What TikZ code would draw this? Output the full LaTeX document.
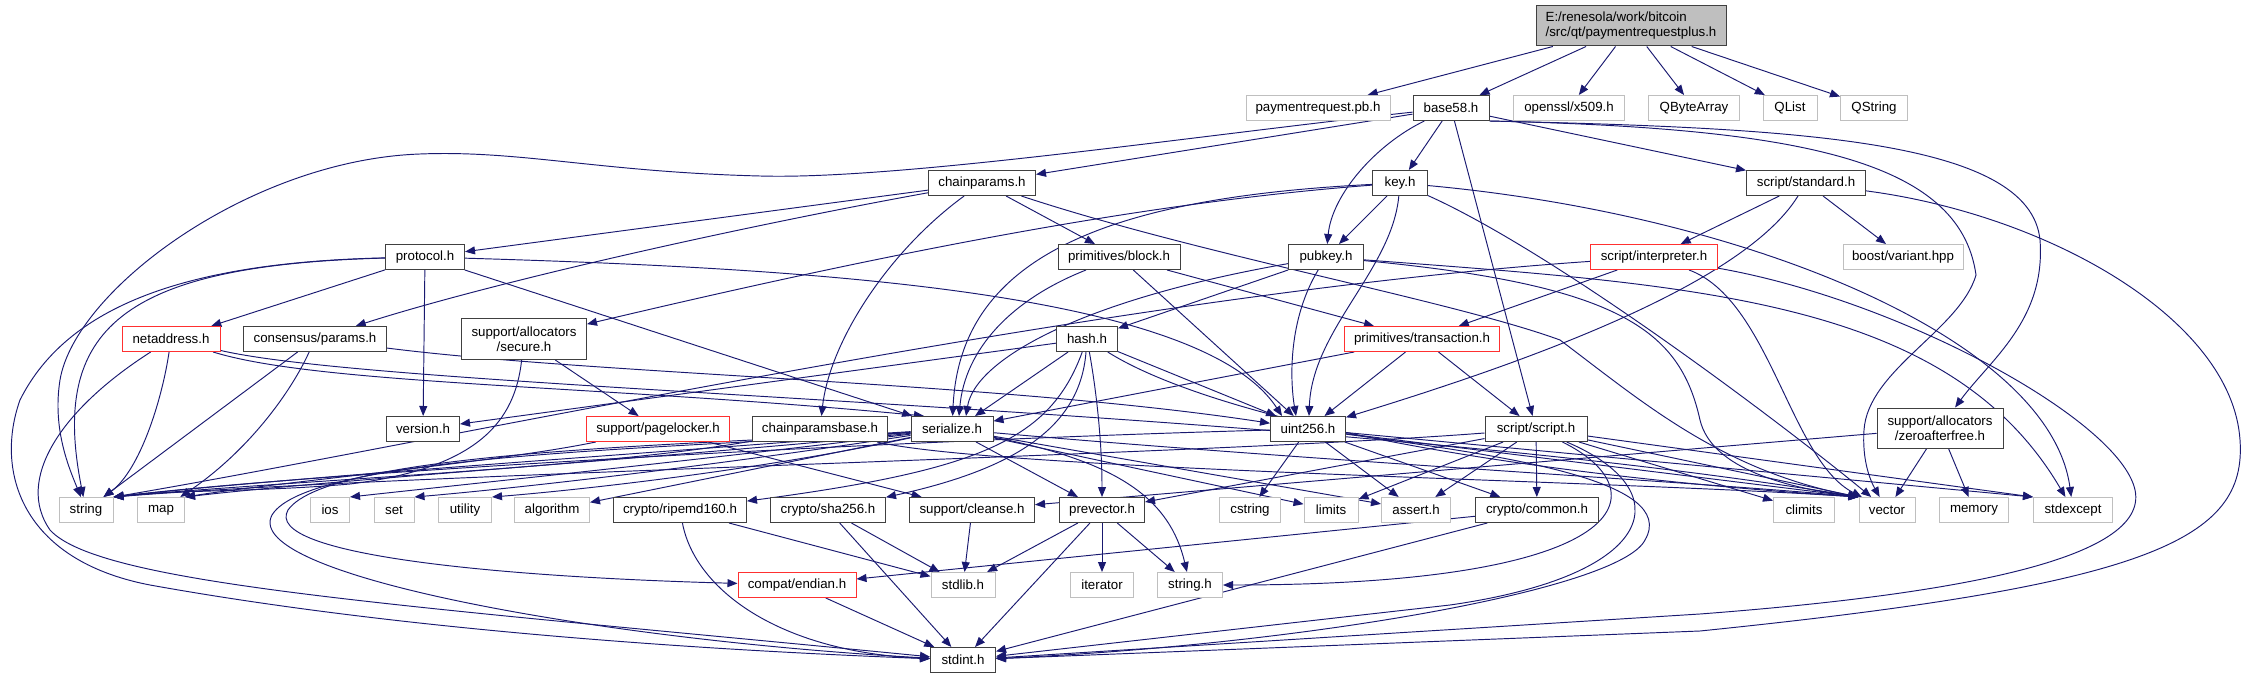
\documentclass[tikz,border=0pt]{standalone}
\usepackage{fontspec}
\setmainfont{Liberation Sans}
\usetikzlibrary{arrows.meta}
\definecolor{edgec}{HTML}{191970}
\definecolor{lgray}{HTML}{BFBFBF}
\definecolor{dgray}{HTML}{404040}
\definecolor{redb}{HTML}{FF3030}
\pgfdeclarelayer{bg}
\pgfsetlayers{bg,main}
\begin{document}
\begin{tikzpicture}[x=1pt,y=-1pt,
  base/.style={rectangle, minimum height=25pt, inner sep=0pt, font=\fontsize{13.3}{15}\selectfont, line width=1pt, fill=white},
  nb/.style={base, draw=dgray},
  ng/.style={base, draw=lgray},
  nr/.style={base, draw=redb},
  dep/.style={draw=edgec, line width=0.95pt, -{Triangle[length=10pt,width=8pt]}},
]
\useasboundingbox (0,0) rectangle (2249,679);
% nodes
\node[base, draw=dgray, fill=lgray, minimum width=190pt, minimum height=40pt, align=left] (root) at (1631,26) {E:/renesola/work/bitcoin\\/src/qt/paymentrequestplus.h};
\node[ng, minimum width=144pt] (pr) at (1318,108) {paymentrequest.pb.h};
\node[nb, minimum width=76pt] (base58) at (1451,108) {base58.h};
\node[ng, minimum width=111pt] (x509) at (1569,108) {openssl/x509.h};
\node[ng, minimum width=91pt] (qba) at (1694,108) {QByteArray};
\node[ng, minimum width=54pt] (qlist) at (1790,108) {QList};
\node[ng, minimum width=67pt] (qstring) at (1874,108) {QString};
\node[nb, minimum width=107pt] (chainparams) at (982,183) {chainparams.h};
\node[nb, minimum width=55pt] (key) at (1400,183) {key.h};
\node[nb, minimum width=119pt] (standard) at (1806,183) {script/standard.h};
\node[nb, minimum width=79pt] (protocol) at (425,257) {protocol.h};
\node[nb, minimum width=122pt] (block) at (1119,257) {primitives/block.h};
\node[nb, minimum width=75pt] (pubkey) at (1326,257) {pubkey.h};
\node[nr, minimum width=127pt] (interp) at (1654,257) {script/interpreter.h};
\node[ng, minimum width=120pt] (variant) at (1903,257) {boost/variant.hpp};
\node[nr, minimum width=98pt] (netaddr) at (171,339) {netaddress.h};
\node[nb, minimum width=143pt] (consensus) at (315,339) {consensus/params.h};
\node[nb, minimum width=125pt, minimum height=41pt, align=center] (secure) at (524,339) {support/allocators\\/secure.h};
\node[nb, minimum width=61pt] (hash) at (1087,339) {hash.h};
\node[nr, minimum width=155pt] (tx) at (1422,339) {primitives/transaction.h};
\node[nb, minimum width=73pt] (version) at (423,429) {version.h};
\node[nr, minimum width=143pt] (pagelocker) at (658,429) {support/pagelocker.h};
\node[nb, minimum width=135pt] (cpbase) at (820,429) {chainparamsbase.h};
\node[nb, minimum width=82pt] (serialize) at (952,429) {serialize.h};
\node[nb, minimum width=75pt] (uint256) at (1308,429) {uint256.h};
\node[nb, minimum width=102pt] (script) at (1536,429) {script/script.h};
\node[nb, minimum width=126pt, minimum height=40pt, align=center] (zaf) at (1940,428) {support/allocators\\/zeroafterfree.h};
\node[ng, minimum width=54pt] (string) at (86,510) {string};
\node[ng, minimum width=47pt] (map) at (161,510) {map};
\node[ng, minimum width=39pt] (ios) at (330,510) {ios};
\node[ng, minimum width=40pt] (set) at (394,510) {set};
\node[ng, minimum width=53pt] (utility) at (465,510) {utility};
\node[ng, minimum width=75pt] (algorithm) at (552,510) {algorithm};
\node[nb, minimum width=133pt] (ripemd) at (680,510) {crypto/ripemd160.h};
\node[nb, minimum width=115pt] (sha) at (828,510) {crypto/sha256.h};
\node[nb, minimum width=125pt] (cleanse) at (972,510) {support/cleanse.h};
\node[nb, minimum width=85pt] (prevector) at (1102,510) {prevector.h};
\node[ng, minimum width=61pt] (cstring) at (1250,510) {cstring};
\node[ng, minimum width=54pt] (limits) at (1331,510) {limits};
\node[ng, minimum width=69pt] (assert) at (1416,510) {assert.h};
\node[nb, minimum width=123pt] (common) at (1537,510) {crypto/common.h};
\node[ng, minimum width=61pt] (climits) at (1804,510) {climits};
\node[ng, minimum width=56pt] (vector) at (1887,510) {vector};
\node[ng, minimum width=69pt] (memory) at (1974,510) {memory};
\node[ng, minimum width=79pt] (stdexcept) at (2073,510) {stdexcept};
\node[nr, minimum width=118pt] (endian) at (797,585) {compat/endian.h};
\node[ng, minimum width=64pt] (stdlib) at (963,585) {stdlib.h};
\node[ng, minimum width=63pt] (iterator) at (1102,585) {iterator};
\node[ng, minimum width=65pt] (stringh) at (1190,585) {string.h};
\node[nb, minimum width=65pt] (stdint) at (963,660) {stdint.h};

\begin{pgfonlayer}{bg}
% root
\draw[dep] (root) -- (pr);
\draw[dep] (root) -- (base58);
\draw[dep] (root) -- (x509);
\draw[dep] (root) -- (qba);
\draw[dep] (root) -- (qlist);
\draw[dep] (root) -- (qstring);
% base58
\draw[dep] (base58) -- (key);
\draw[dep] (base58) -- (chainparams);
\draw[dep] (base58) -- (standard);
\draw[dep] (base58) -- (script);
\draw[dep] (base58) .. controls (1375,145) and (1332,195) .. (pubkey);
\draw[dep] (base58) .. controls (1200,135) and (900,180) .. (760,176) .. controls (600,172) and (520,150) .. (420,154) .. controls (250,160) and (75,290) .. (60,380) .. controls (52,430) and (70,470) .. (string);
\draw[dep] (base58.south east) .. controls (1800,128) and (2030,140) .. (2040,240) .. controls (2046,320) and (1990,360) .. (zaf);
\draw[dep] (base58.south east) .. controls (1800,128) and (1960,160) .. (1976,275) .. controls (1960,330) and (1868,370) .. (1864,430) .. controls (1862,460) and (1870,480) .. (vector);
% chainparams
\draw[dep] (chainparams) -- (protocol);
\draw[dep] (chainparams) .. controls (750,225) and (500,280) .. (consensus);
\draw[dep] (chainparams) .. controls (890,250) and (830,340) .. (cpbase);
\draw[dep] (chainparams) -- (block);
\draw[dep] (chainparams) .. controls (1200,255) and (1450,300) .. (1560,340) .. controls (1640,400) and (1720,470) .. (vector.north west);
% key
\draw[dep] (key) -- (pubkey);
\draw[dep] (key) .. controls (1100,198) and (960,260) .. (serialize);
\draw[dep] (key) .. controls (1150,202) and (900,250) .. (secure);
\draw[dep] (key) .. controls (1392,270) and (1312,330) .. ([xshift=1pt]uint256.north);
\draw[dep] (key) .. controls (1750,215) and (2050,340) .. (stdexcept);
\draw[dep] (key) .. controls (1560,255) and (1790,430) .. (vector);
% pubkey
\draw[dep] (pubkey) -- (hash);
\draw[dep] (pubkey) .. controls (1080,300) and (975,360) .. ([xshift=14pt]serialize.north);
\draw[dep] (pubkey) .. controls (1288,320) and (1290,380) .. ([xshift=-12pt]uint256.north);
\draw[dep] (pubkey) .. controls (1700,285) and (1950,300) .. (stdexcept);
\draw[dep] (pubkey) .. controls (1620,285) and (1680,330) .. (1700,420) .. controls (1712,470) and (1790,488) .. (vector.north west);
% standard
\draw[dep] (standard) -- (interp);
\draw[dep] (standard) -- (variant);
\draw[dep] (standard) .. controls (1740,290) and (1500,370) .. (uint256);
\draw[dep] (standard) .. controls (2050,215) and (2232,320) .. (2240,440) .. controls (2247,540) and (2150,585) .. (1700,631) -- (stdint);
% protocol
\draw[dep] (protocol) -- (netaddr);
\draw[dep] (protocol) -- (version);
\draw[dep] (protocol) -- (serialize);
\draw[dep] (protocol) .. controls (800,268) and (1200,290) .. ([xshift=-26pt]uint256.north);
\draw[dep] (protocol) .. controls (120,265) and (50,330) .. (string);
\draw[dep] (protocol) .. controls (200,262) and (70,300) .. (20,400) .. controls (-5,470) and (20,560) .. (150,585) .. controls (400,630) and (700,650) .. (stdint);
% block
\draw[dep] (block) -- (tx);
\draw[dep] (block) .. controls (1010,300) and (965,350) .. ([xshift=7pt]serialize.north);
\draw[dep] (block) -- (uint256);
% interpreter
\draw[dep] (interp) -- (tx);
\draw[dep] (interp) .. controls (1100,295) and (450,440) .. (string.north east);
\draw[dep] (interp) .. controls (1770,300) and (1790,460) .. (vector);
\draw[dep] (interp) .. controls (1900,300) and (2120,420) .. (2135,490) .. controls (2150,560) and (1950,595) .. (1700,614) -- (stdint);
% netaddress
\draw[dep] (netaddr) .. controls (162,400) and (140,470) .. (string);
\draw[dep] (netaddr) .. controls (60,410) and (15,480) .. (50,530) .. controls (100,585) and (400,605) .. (stdint);
\draw[dep] (netaddr) .. controls (320,385) and (600,385) .. ([xshift=-28pt]serialize.north);
\draw[dep] (netaddr) .. controls (400,392) and (1300,405) .. (vector.north west);
% consensus
\draw[dep] (consensus) .. controls (600,375) and (1000,382) .. (uint256);
\draw[dep] (consensus) -- (string);
\draw[dep] (consensus) .. controls (292,390) and (250,450) .. (map);
% secure
\draw[dep] (secure) -- (pagelocker);
\draw[dep] (secure) .. controls (515,420) and (480,468) .. (350,484) .. controls (260,492) and (170,490) .. (string.north east);
% hash
\draw[dep] (hash) .. controls (1050,440) and (980,470) .. (ripemd);
\draw[dep] (hash) .. controls (1080,430) and (1010,470) .. (sha);
\draw[dep] (hash) .. controls (1098,400) and (1102,450) .. (prevector);
\draw[dep] (hash) -- ([xshift=23pt]serialize.north);
\draw[dep] (hash) -- (uint256);
\draw[dep] (hash) -- (version);
\draw[dep] (hash) .. controls (1200,410) and (1450,470) .. (vector.north west);
% transaction
\draw[dep] (tx) -- (script);
\draw[dep] (tx) -- (serialize);
\draw[dep] (tx) -- (uint256);
% pagelocker
\draw[dep] (pagelocker) -- (cleanse);
\draw[dep] (pagelocker) .. controls (500,462) and (280,482) .. (map.north east);
% chainparamsbase
\draw[dep] (cpbase) .. controls (600,468) and (300,480) .. (string.north east);
\draw[dep] (cpbase) .. controls (1000,470) and (1600,480) .. (vector.north west);
% serialize
\draw[dep] (serialize) -- (prevector);
\draw[dep] (serialize) .. controls (700,450) and (300,476) .. (string.north east);
\draw[dep] (serialize) .. controls (700,455) and (330,480) .. (map.north east);
\draw[dep] (serialize) .. controls (700,460) and (450,486) .. (ios.north east);
\draw[dep] (serialize) .. controls (720,465) and (520,488) .. (set.north east);
\draw[dep] (serialize) .. controls (760,470) and (580,490) .. (utility.north east);
\draw[dep] (serialize) -- (algorithm);
\draw[dep] (serialize) .. controls (700,445) and (330,450) .. (288,510) .. controls (262,555) and (500,577) .. (endian);
\draw[dep] (serialize) .. controls (700,448) and (310,452) .. (272,515) .. controls (240,575) and (600,640) .. (stdint);
\draw[dep] (serialize) -- (limits);
\draw[dep] (serialize) -- (assert);
\draw[dep] (serialize) .. controls (1300,460) and (1700,482) .. (vector.north west);
\draw[dep] (serialize) .. controls (1120,462) and (1170,500) .. (stringh);
% uint256
\draw[dep] (uint256) -- (common);
\draw[dep] (uint256) -- (cstring);
\draw[dep] (uint256) -- (assert);
\draw[dep] (uint256) -- (stdexcept.north west);
\draw[dep] (uint256) -- (vector.north west);
\draw[dep] (uint256) .. controls (900,440) and (320,472) .. (string.north east);
\draw[dep] (uint256) .. controls (1500,455) and (1680,480) .. (1645,540) .. controls (1620,590) and (1300,645) .. (stdint);
% script
\draw[dep] (script) -- (common);
\draw[dep] (script) -- (prevector);
\draw[dep] (script) -- (assert);
\draw[dep] (script) -- (limits);
\draw[dep] (script) -- (climits);
\draw[dep] (script) -- (vector.north west);
\draw[dep] (script) -- (stdexcept.north west);
\draw[dep] (script) .. controls (1660,490) and (1640,585) .. (stringh);
\draw[dep] (script) .. controls (1680,490) and (1660,575) .. (1450,605) -- (stdint);
\draw[dep] (script) .. controls (1200,455) and (400,474) .. (string.north east);
% zeroafterfree
\draw[dep] (zaf) -- (cleanse);
\draw[dep] (zaf) -- (vector);
\draw[dep] (zaf) -- (memory);
% lower
\draw[dep] (common) -- (endian);
\draw[dep] (common) -- (stdint);
\draw[dep] (prevector) -- (stdlib);
\draw[dep] (prevector) -- (stdint);
\draw[dep] (prevector) -- (iterator);
\draw[dep] (prevector) -- (stringh);
\draw[dep] (ripemd) -- (stdlib);
\draw[dep] (ripemd) .. controls (695,590) and (780,652) .. (stdint);
\draw[dep] (sha) -- (stdlib);
\draw[dep] (sha) -- (stdint);
\draw[dep] (cleanse) -- (stdlib);
\draw[dep] (endian) -- (stdint);
\end{pgfonlayer}
\end{tikzpicture}
\end{document}
